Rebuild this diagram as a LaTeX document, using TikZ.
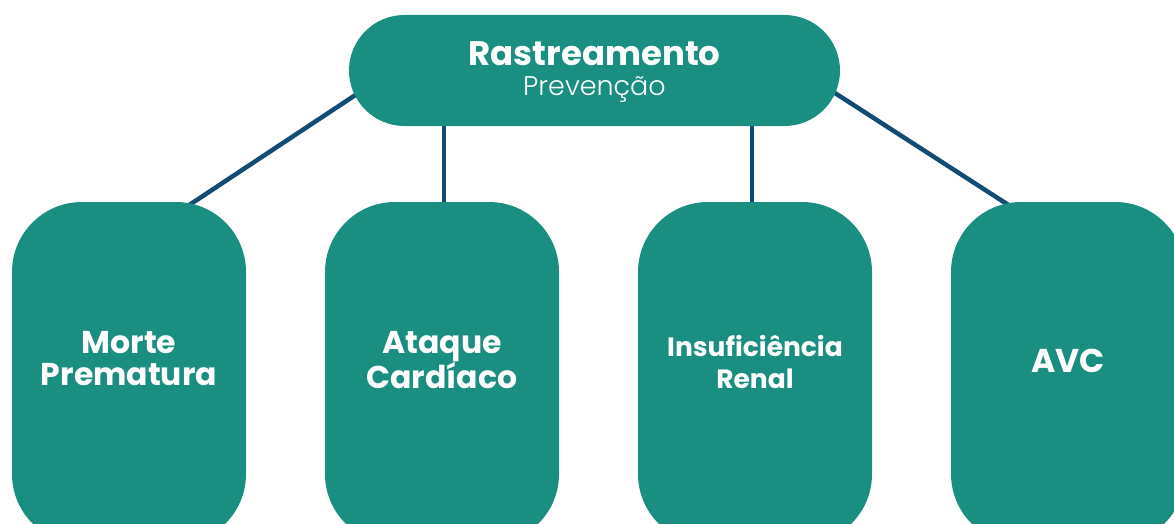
\documentclass[tikz,border=0pt]{standalone}
\usepackage{fontspec}
\setmainfont{Poppins}
\newfontfamily\poplight{Poppins}[UprightFont=* Light]
\usetikzlibrary{calc,backgrounds}
\definecolor{tealbox}{HTML}{1B8E82}
\definecolor{navyline}{HTML}{124B73}

\begin{document}
\begin{tikzpicture}[x=1pt,y=-1pt,
		pill/.style = {fill=tealbox, rounded corners=55.5pt, inner sep=0pt,
			minimum width=491pt, minimum height=111pt},
		box/.style = {fill=tealbox, rounded corners=70pt, inner sep=0pt,
			minimum width=234pt, minimum height=342pt},
		lbl/.style = {text=white, align=center, inner sep=0pt},
		link/.style = {draw=navyline, line width=4.5pt},
		]
		\useasboundingbox (0,0) rectangle (1174,524);
		\node[pill] (top) at (594.5,70.5) {};
		\foreach \x/\n in {129/b1, 442/b2, 755/b3, 1068/b4}
		{
			\node[box] (\n) at (\x,373) {};
		};
		% labels
		\node[lbl, font=\fontsize{27}{30}\selectfont] (ttl) at ([yshift=-2pt]top.center)
			{{\bfseries\fontsize{34}{30}\selectfont Rastreamento}\\{\poplight Prevenção}};
		\node[lbl, font=\bfseries\fontsize{31.5}{32}\selectfont] (t1) at ([yshift=14pt]b1.center) {Morte\\Prematura};
		\node[lbl, font=\bfseries\fontsize{31.5}{31}\selectfont] (t2) at ([yshift=13pt]b2.center) {Ataque\\Cardíaco};
		\node[lbl, font=\bfseries\fontsize{26.5}{32}\selectfont] (t3) at ([yshift=11pt]b3.center) {Insuficiência\\Renal};
		\node[lbl, font=\bfseries\fontsize{33}{32}\selectfont] (t4) at ([yshift=12pt]b4.center) {AVC};
		% connectors
		\begin{scope}[on background layer]
			\draw[link] ([xshift=21pt,yshift=-15pt]top.west) -- ([xshift=53pt,yshift=-8pt]b1.north);
			\draw[link] ([xshift=2pt]b2.north) -- ([xshift=2pt]b2.north |- top.center);
			\draw[link] ([xshift=-3pt]b3.north) -- ([xshift=-3pt]b3.north |- top.center);
			\draw[link] ([xshift=-20pt,yshift=-13pt]top.east) -- ([xshift=-49pt,yshift=-10pt]b4.north);
		\end{scope}
	\end{tikzpicture}
\end{document}
